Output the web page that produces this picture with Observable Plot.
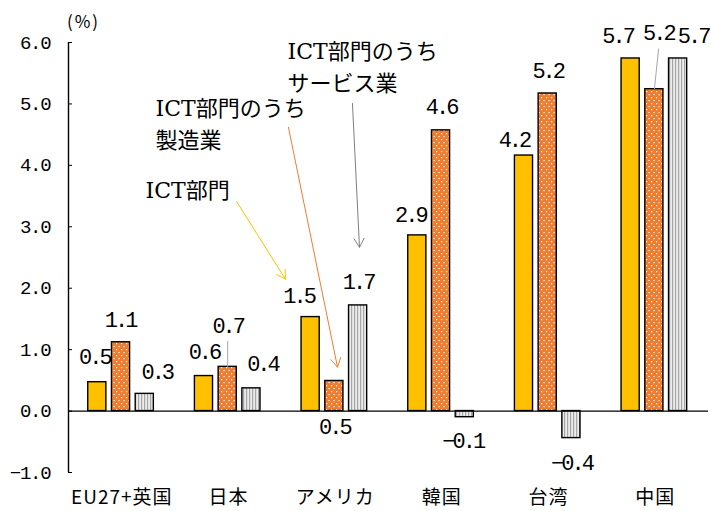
<!DOCTYPE html>
<html><head><meta charset="utf-8">
<script src="https://cdn.jsdelivr.net/npm/d3@7"></script>
<script src="https://cdn.jsdelivr.net/npm/@observablehq/plot@0.6"></script>
<style>
html,body{margin:0;padding:0;background:#fff;}
#chart{width:711px;height:511px;}
g[aria-label="x-axis tick label"] text{letter-spacing:1px;}
g[aria-label="y-axis tick label"] text{letter-spacing:-1.2px;}
g[aria-label="text"][font-size="22"][font-family^="Liberation"] text{letter-spacing:-3px;}
g[aria-label="text"][font-size="17"] text{letter-spacing:2px;}
</style>
</head><body><div id="chart"></div>
<script>
// ---- data ----
const categories = ["EU27+英国", "日本", "アメリカ", "韓国", "台湾", "中国"];
const seriesNames = ["ICT部門", "ICT部門のうち製造業", "ICT部門のうちサービス業"];
const ictValues = [0.47, 0.57, 1.53, 2.86, 4.16, 5.74];
const mfgValues = [1.12, 0.72, 0.49, 4.57, 5.17, 5.24];
const svcValues = [0.28, 0.37, 1.72, -0.10, -0.44, 5.74];
const yTicks = [-1, 0, 1, 2, 3, 4, 5, 6];
const unitLabel = "(%)";

// ---- layout / style (not data) ----
const W = 711, H = 511;
const M = {top: 42, right: 3, bottom: 39, left: 68};
const GROUP_OFFSET = 0.27, BAR_STEP = 0.2225, BAR_W = 0.17;
const fills = ["#FFC000", "url(#pat-dots)", "url(#pat-stripes)"];
const fmt = d3.format(".1f");
const NUM_FONT = "Liberation Mono, DejaVu Sans Mono, monospace";
// label nudges in px [dx, dy] keyed by "category-series"
const labelNudge = {
  "0-0": [-3, -25], "0-1": [-1, -22], "0-2": [12, -22],
  "1-0": [0, -24], "1-1": [0, -41], "1-2": [11, -24],
  "2-0": [-12, -21], "2-1": [0, 46], "2-2": [0, -23],
  "3-0": [-7, -20], "3-1": [0, -23], "3-2": [-2, 24],
  "4-0": [-10, -16], "4-1": [0, -23], "4-2": [0, 25],
  "5-0": [-13, -23], "5-1": [4, -56], "5-2": [15, -23]
};
// leader lines for moved labels (data units)
const leaders = [
  {ci: 1, si: 1, dxEnd: 0, yEnd: 1.14},
  {ci: 5, si: 1, dxEnd: 0.04, yEnd: 5.90}
];
// annotation callouts (data units)
const annotations = [
  {text: "ICT部門", color: "#FFC000", tx: 0.722, ty: 3.642, x1: 1.575, y1: 3.415, x2: 2.034, y2: 2.146},
  {text: "ICT部門のうち\n製造業", color: "#ED7D31", tx: 0.816, ty: 4.707, x1: 2.062, y1: 4.618, x2: 2.522, y2: 0.715},
  {text: "ICT部門のうち\nサービス業", color: "#808080", tx: 2.053, ty: 5.642, x1: 2.662, y1: 5.008, x2: 2.728, y2: 2.667}
];

const seriesValues = [ictValues, mfgValues, svcValues];
const rows = categories.flatMap((cat, ci) =>
  seriesValues.map((vals, si) => ({cat, ci, si, series: seriesNames[si], value: vals[ci]})));
const center = (ci, si) => ci + GROUP_OFFSET + si * BAR_STEP;

const barMarks = seriesNames.map((name, si) =>
  Plot.rect(rows.filter(d => d.si === si), {
    x1: d => center(d.ci, d.si) - BAR_W / 2,
    x2: d => center(d.ci, d.si) + BAR_W / 2,
    y1: 0, y2: "value",
    fill: fills[si], stroke: "#000", strokeWidth: 1.4
  }));

const labelMarks = rows.map(d => {
  const n = labelNudge[`${d.ci}-${d.si}`] || [0, d.value >= 0 ? -23 : 24];
  return Plot.text([d], {
    x: r => center(r.ci, r.si), y: "value", text: r => fmt(r.value),
    dx: n[0], dy: n[1], lineAnchor: "middle", textAnchor: "middle",
    fontFamily: NUM_FONT, fontSize: 22, fill: "#000"
  });
});

const plot = Plot.plot({
  width: W, height: H,
  marginTop: M.top, marginRight: M.right, marginBottom: M.bottom, marginLeft: M.left,
  style: {background: "#fff", color: "#000", overflow: "visible"},
  x: {domain: [0, categories.length]},
  y: {domain: [yTicks[0], yTicks[yTicks.length - 1]]},
  marks: [
    ...barMarks,
    Plot.ruleY([0], {stroke: "#000", strokeWidth: 1.2}),
    Plot.ruleX([0], {y1: yTicks[0], y2: yTicks[yTicks.length - 1], stroke: "#000", strokeWidth: 1.4}),
    Plot.axisY({ticks: yTicks, tickFormat: fmt, tickSize: -4, tickPadding: 22, label: null,
      fontFamily: NUM_FONT, fontSize: 19, stroke: "#000"}),
    Plot.axisX({ticks: categories.map((_, i) => i + 0.5), tickFormat: v => categories[Math.floor(v)],
      tickSize: 0, tickPadding: 18, label: null, fontFamily: "Noto Sans CJK JP", fontSize: 19}),
    Plot.link(leaders, {
      x1: d => center(d.ci, d.si), y1: d => seriesValues[d.si][d.ci],
      x2: d => center(d.ci, d.si) + d.dxEnd, y2: "yEnd", stroke: "#A6A6A6", strokeWidth: 1
    }),
    ...labelMarks,
    Plot.arrow(annotations, {x1: "x1", y1: "y1", x2: "x2", y2: "y2", stroke: "color",
      strokeWidth: 1, headLength: 15, headAngle: 60}),
    Plot.text(annotations, {x: "tx", y: "ty", text: "text", textAnchor: "start", lineAnchor: "middle",
      lineHeight: 1.45, fontFamily: "DejaVu Serif, Noto Sans CJK JP", fontSize: 22, fill: "#000"}),
    Plot.text([unitLabel], {frameAnchor: "top-left", dx: 15, dy: -20, textAnchor: "middle",
      lineAnchor: "middle", fontFamily: "Noto Sans CJK JP", fontSize: 17, fill: "#000"})
  ],
  color: {type: "identity"}
});

document.getElementById("chart").appendChild(plot);
const svg = d3.select(plot.tagName.toLowerCase() === "svg" ? plot : plot.querySelector("svg"));
const defs = svg.insert("defs", ":first-child");
const dots = defs.append("pattern").attr("id", "pat-dots").attr("patternUnits", "userSpaceOnUse")
  .attr("width", 5).attr("height", 6);
dots.append("rect").attr("width", 5).attr("height", 6).attr("fill", "#ED7D31");
dots.append("rect").attr("x", 1).attr("y", 1).attr("width", 1.2).attr("height", 1.2).attr("fill", "#fff");
dots.append("rect").attr("x", 3.5).attr("y", 4).attr("width", 1.2).attr("height", 1.2).attr("fill", "#fff");
const stripes = defs.append("pattern").attr("id", "pat-stripes").attr("patternUnits", "userSpaceOnUse")
  .attr("width", 3).attr("height", 3);
stripes.append("rect").attr("width", 3).attr("height", 3).attr("fill", "#ececec");
stripes.append("rect").attr("x", 0).attr("width", 1.2).attr("height", 3).attr("fill", "#a6a6a6");
</script>
</body></html>
